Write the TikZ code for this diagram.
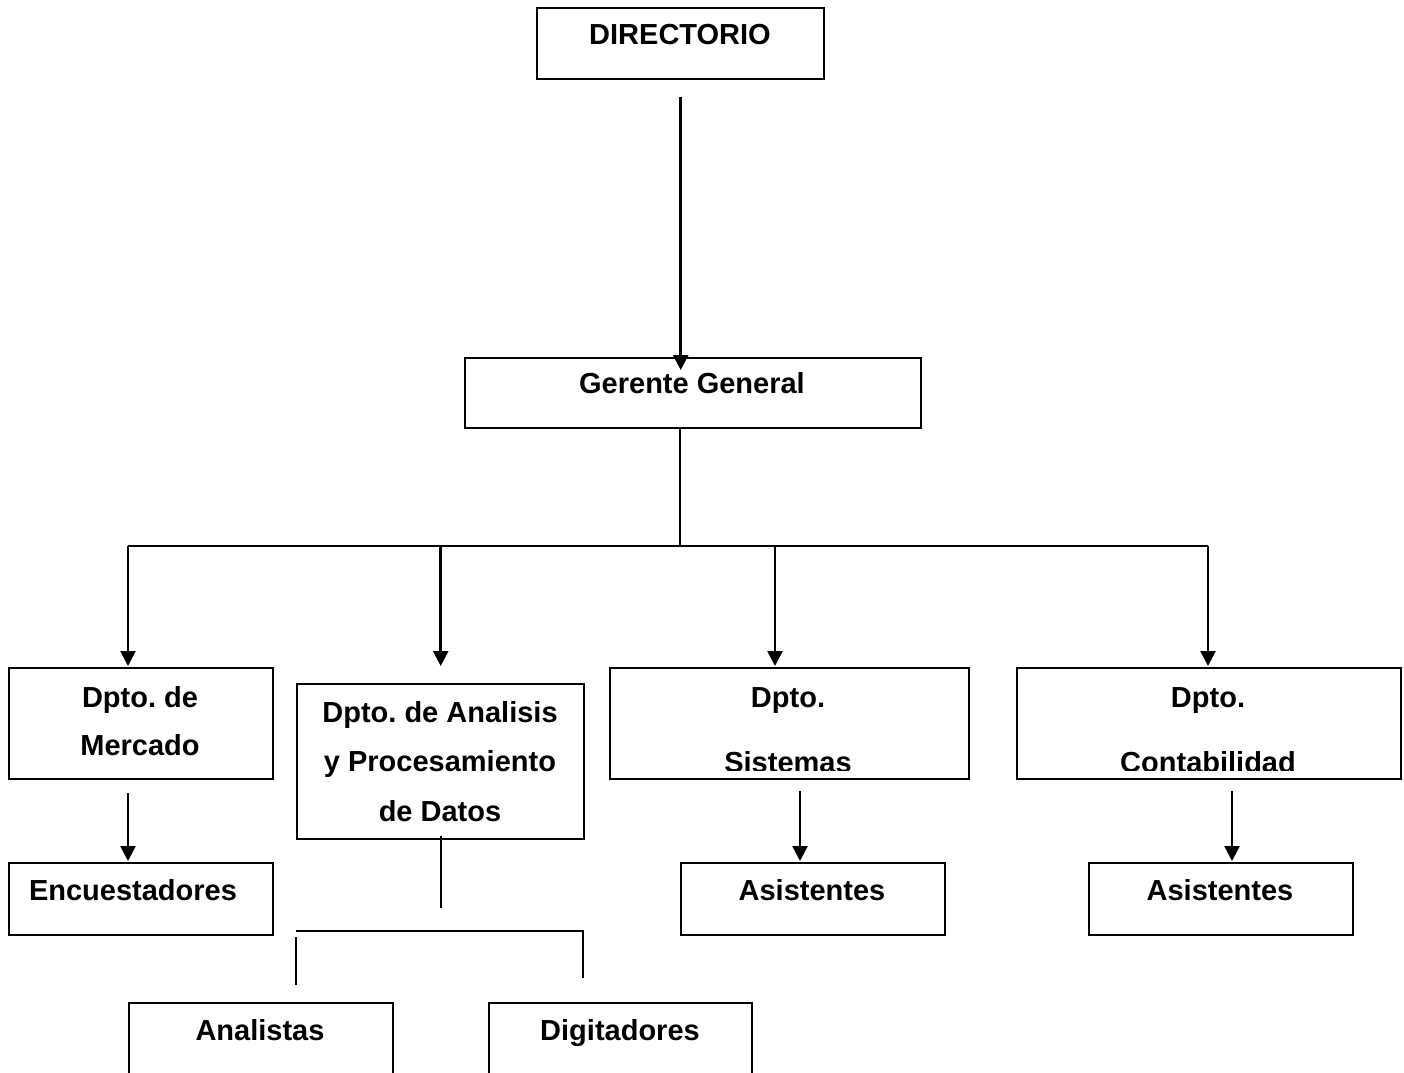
\documentclass[tikz,border=0pt]{standalone}
\usepackage{fontspec}
\setmainfont{Liberation Sans}
\usetikzlibrary{arrows.meta}
\tikzset{
	caja/.style={draw,line width=2.4pt,inner sep=0pt,anchor=north west},
	texto/.style={anchor=base,inner sep=0pt,font=\bfseries\fontsize{29}{35}\selectfont},
	linea/.style={line width=2.4pt},
	flecha/.style={line width=2.6pt,-{Triangle[width=15pt,length=15pt]}}
}
\begin{document}
\frenchspacing
\begin{tikzpicture}[x=1pt,y=-1pt]
		\clip (0,0) rectangle (1404,1072);
		
		\node[caja,minimum width=287,minimum height=71] (dir) at (536,7) {};
		\node[caja,minimum width=456,minimum height=70] (gg) at (464,357) {};
		\node[caja,minimum width=264,minimum height=111] (merc) at (8,667) {};
		\node[caja,minimum width=287,minimum height=155] (ana) at (296,683) {};
		\node[caja,minimum width=359,minimum height=111] (sis) at (609,667) {};
		\node[caja,minimum width=384,minimum height=111] (cont) at (1016,667) {};
		\node[caja,minimum width=264,minimum height=72] (enc) at (8,862) {};
		\node[caja,minimum width=264,minimum height=72] (asisA) at (680,862) {};
		\node[caja,minimum width=264,minimum height=72] (asisB) at (1088,862) {};
		\node[caja,minimum width=264,minimum height=110] (anl) at (128,1002) {};
		\node[caja,minimum width=263,minimum height=110] (dig) at (488,1002) {};
		
		\node[texto] (dirT) at (680,44) {DIRECTORIO};
		\node[texto] (ggT) at (692,393) {Gerente General};
		\node[texto] (mercT) at (140,707) {Dpto. de};
		\node[texto] (mercT2) at (140,755) {Mercado};
		\node[texto] (anaT) at (440,722) {Dpto. de Analisis};
		\node[texto] (anaT2) at (440,771) {y Procesamiento};
		\node[texto] (anaT3) at (440,821) {de Datos};
		\node[texto] (sisT) at (788,707) {Dpto.};
		\node[texto] (contT) at (1208,707) {Dpto.};
		\begin{scope}
			\clip (609,667) rectangle (1400,770);
			\node[texto] (sisT2) at (788,772) {Sistemas};
			\node[texto] (contT2) at (1208,772) {Contabilidad};
		\end{scope}
		\node[texto] (encT) at (133,900) {Encuestadores};
		\node[texto] (asisAT) at (812,900) {Asistentes};
		\node[texto] (asisBT) at (1220,900) {Asistentes};
		\node[texto] (anlT) at (260,1040) {Analistas};
		\node[texto] (digT) at (620,1040) {Digitadores};
		
		\coordinate (bus) at (680,546);
		\coordinate (busI) at (128,546);
		\coordinate (busS) at (775,546);
		\coordinate (busD) at (1208,546);
		\coordinate (sisB) at (800,791);
		\coordinate (contB) at (1232,791);
		\coordinate (anaI) at (296,931);
		\coordinate (anaD) at (583,931);
		
		\draw[flecha] ([yshift=-17pt]dir.south) -- ([yshift=-13pt]dir.south |- gg.north);
		\draw[linea] (bus |- gg.south) -- (bus);
		\draw[linea] (busI) -- (busD);
		\draw[flecha] (busI) -- ([yshift=1pt]busI |- merc.north);
		\draw[flecha] (ana.north |- bus) -- ([yshift=17pt]ana.north);
		\draw[flecha] (busS) -- ([yshift=1pt]busS |- sis.north);
		\draw[flecha] (busD) -- ([yshift=1pt]busD |- cont.north);
		
		\draw[flecha] ([yshift=-13pt]busI |- merc.south) -- ([yshift=1pt]busI |- enc.north);
		\draw[flecha] (sisB) -- ([yshift=1pt]sisB |- asisA.north);
		\draw[flecha] (contB) -- ([yshift=1pt]contB |- asisB.north);
		
		\draw[linea] ([yshift=4pt]ana.south) -- ([yshift=-68pt]ana.south);
		\draw[linea] (anaI) -- (anaD) -- ([yshift=-47pt]anaD);
		\draw[linea] ([yshift=-6pt]anaI) -- ([yshift=-54pt]anaI);
	\end{tikzpicture}
\end{document}
